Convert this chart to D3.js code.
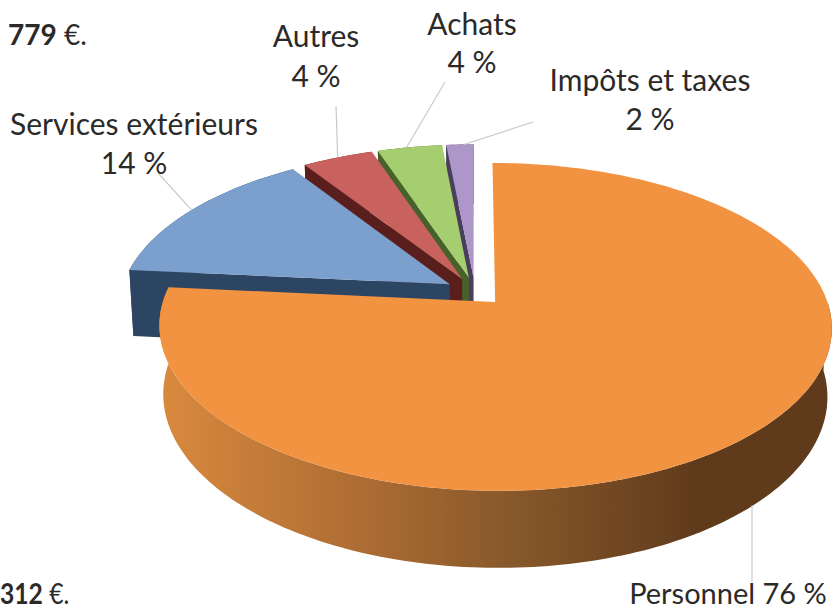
<!DOCTYPE html>
<html>
<head>
<meta charset="utf-8">
<style>html,body{margin:0;padding:0;background:#fff;overflow:hidden}svg{display:block}</style>
<script src="https://cdn.jsdelivr.net/npm/d3@7/dist/d3.min.js"></script>
</head>
<body>
<svg id="c" width="832" height="610"></svg>
<script>
// Data
const categories = ["Personnel", "Services extérieurs", "Autres", "Achats", "Impôts et taxes"];
const shares = [76.5, 14.25, 4.03, 3.67, 1.55];
const shareLabels = ["76 %", "14 %", "4 %", "4 %", "2 %"];
const topColors = ["#f29342", "#7ba0cd", "#c9625f", "#a5cf6e", "#ad97c8"];
const sideColors = ["#8a5a2a", "#2c4562", "#5a1f1c", "#47612a", "#4a3e5c"];

// Layout
const W = 832, H = 610;
const cam = {cx: 475, cy: 291.5, b: 329, a: 157, k: 0.15, m: 0.012, h: 68};
const explode = 0.09;
const FONT = "Lato, 'Open Sans', sans-serif";
const FS = 30;
const labelLayout = [
  {lines: d => [`${d.c} ${d.l}`], x: 728, y: 604, size: 29, from: [752, 582]},
  {lines: d => [d.c, d.l], x: 134, y: [135, 174], from: [158, 173], at: 0.5},
  {lines: d => [d.c, d.l], x: 316, y: [47, 87], from: [336, 106], at: 0.5},
  {lines: d => [d.c, d.l], x: 472, y: [35, 73], from: [445, 82], at: 0.45},
  {lines: d => [d.c, d.l], x: 650, y: [91, 130], from: [533, 122], at: 0.65}
];

const svg = d3.select("#c");
const defs = svg.append("defs");
const grad = defs.append("linearGradient").attr("id", "wall")
  .attr("gradientUnits", "userSpaceOnUse")
  .attr("x1", 160).attr("x2", 780).attr("y1", 0).attr("y2", 0);
[[0, "#d98a3e"], [0.306, "#b06e34"], [0.548, "#8a5a2b"], [0.871, "#5f3a1b"], [1, "#5f3a1b"]].forEach(([o, c]) =>
  grad.append("stop").attr("offset", o).attr("stop-color", c));

const pie = d3.pie().sort(null)(shares);

// perspective projection of ground coordinates (unit radius); z=1 is the lower rim
function project(X, Y, z) {
  const D = 1 - cam.k * Y + cam.m * z;
  return [cam.cx + cam.b * X / D, cam.cy + (cam.a * Y + cam.h * z) / D];
}
const line = d3.line();

const slices = pie.map((p, i) => {
  const mid = (p.startAngle + p.endAngle) / 2;
  const ex = explode * Math.sin(mid), ey = -explode * Math.cos(mid);
  const at = (t, r, z) => project(ex + r * Math.sin(t), ey - r * Math.cos(t), z);
  const n = Math.max(6, Math.ceil((p.endAngle - p.startAngle) * 50));
  const scale = d3.scaleLinear().domain([0, n]).range([p.startAngle, p.endAngle]);
  const arcAngles = d3.range(n + 1).map(scale);
  return {i, p, at, arcAngles};
});

// back to front
d3.range(slices.length).reverse().forEach(i => {
  const s = slices[i];
  const top = s.arcAngles.map(t => s.at(t, 1, 0));
  // the big slice only shows its rim from the right-hand side round to its far end
  const wallAngles = i === 0 ? s.arcAngles.filter(t => t >= Math.PI / 2) : s.arcAngles;
  const wallTop = wallAngles.map(t => s.at(t, 1, 0));
  const wallBot = wallAngles.map(t => s.at(t, 1, 1));
  const g = svg.append("g").attr("class", "slice");
  if (i > 0) {
    g.append("path")
      .attr("d", line([s.at(0, 0, 0), s.at(s.p.startAngle, 1, 0), s.at(s.p.startAngle, 1, 1), s.at(0, 0, 1)]) + "Z")
      .attr("fill", sideColors[i]);
  }
  g.append("path")
    .attr("d", line(wallTop.concat(wallBot.slice().reverse())) + "Z")
    .attr("fill", i === 0 ? "url(#wall)" : sideColors[i]);
  g.append("path")
    .attr("d", line([s.at(0, 0, 0)].concat(top)) + "Z")
    .attr("fill", topColors[i]);
});

// leader lines & labels
labelLayout.forEach((l, i) => {
  const s = slices[i];
  let inner;
  if (i === 0) {
    // straight up from the label to the lower rim of the big slice
    const rim = s.arcAngles.filter(t => t > Math.PI / 2 && t < Math.PI).map(t => s.at(t, 1, 1));
    inner = [l.from[0], d3.least(rim, q => Math.abs(q[0] - l.from[0]))[1]];
  } else {
    const t = s.p.startAngle + l.at * (s.p.endAngle - s.p.startAngle);
    inner = s.at(t, 1, 0);
  }
  svg.append("line")
    .attr("x1", l.from[0]).attr("y1", l.from[1])
    .attr("x2", inner[0]).attr("y2", inner[1])
    .attr("stroke", "#c9c9c9").attr("stroke-width", 1.2);
  const lines = l.lines({c: categories[i], l: shareLabels[i]});
  const ys = [].concat(l.y);
  lines.forEach((txt, j) => {
    svg.append("text")
      .attr("x", l.x).attr("y", ys[j])
      .attr("text-anchor", "middle")
      .attr("font-family", FONT).attr("font-size", l.size || FS)
      .attr("fill", "#2b2a29")
      .text(txt);
  });
});

// text fragments from the surrounding page
[["779", " €.", 8, 45, 1], ["312", " €.", 0, 604, 0.88]].forEach(([b, r, x, y, sx]) => {
  const t = svg.append("text").attr("transform", `translate(${x},${y}) scale(${sx},1)`)
    .attr("font-family", FONT).attr("font-size", 28).attr("fill", "#2b2a29");
  t.append("tspan").attr("font-weight", 700).text(b);
  t.append("tspan").text(r);
});
</script>
</body>
</html>
